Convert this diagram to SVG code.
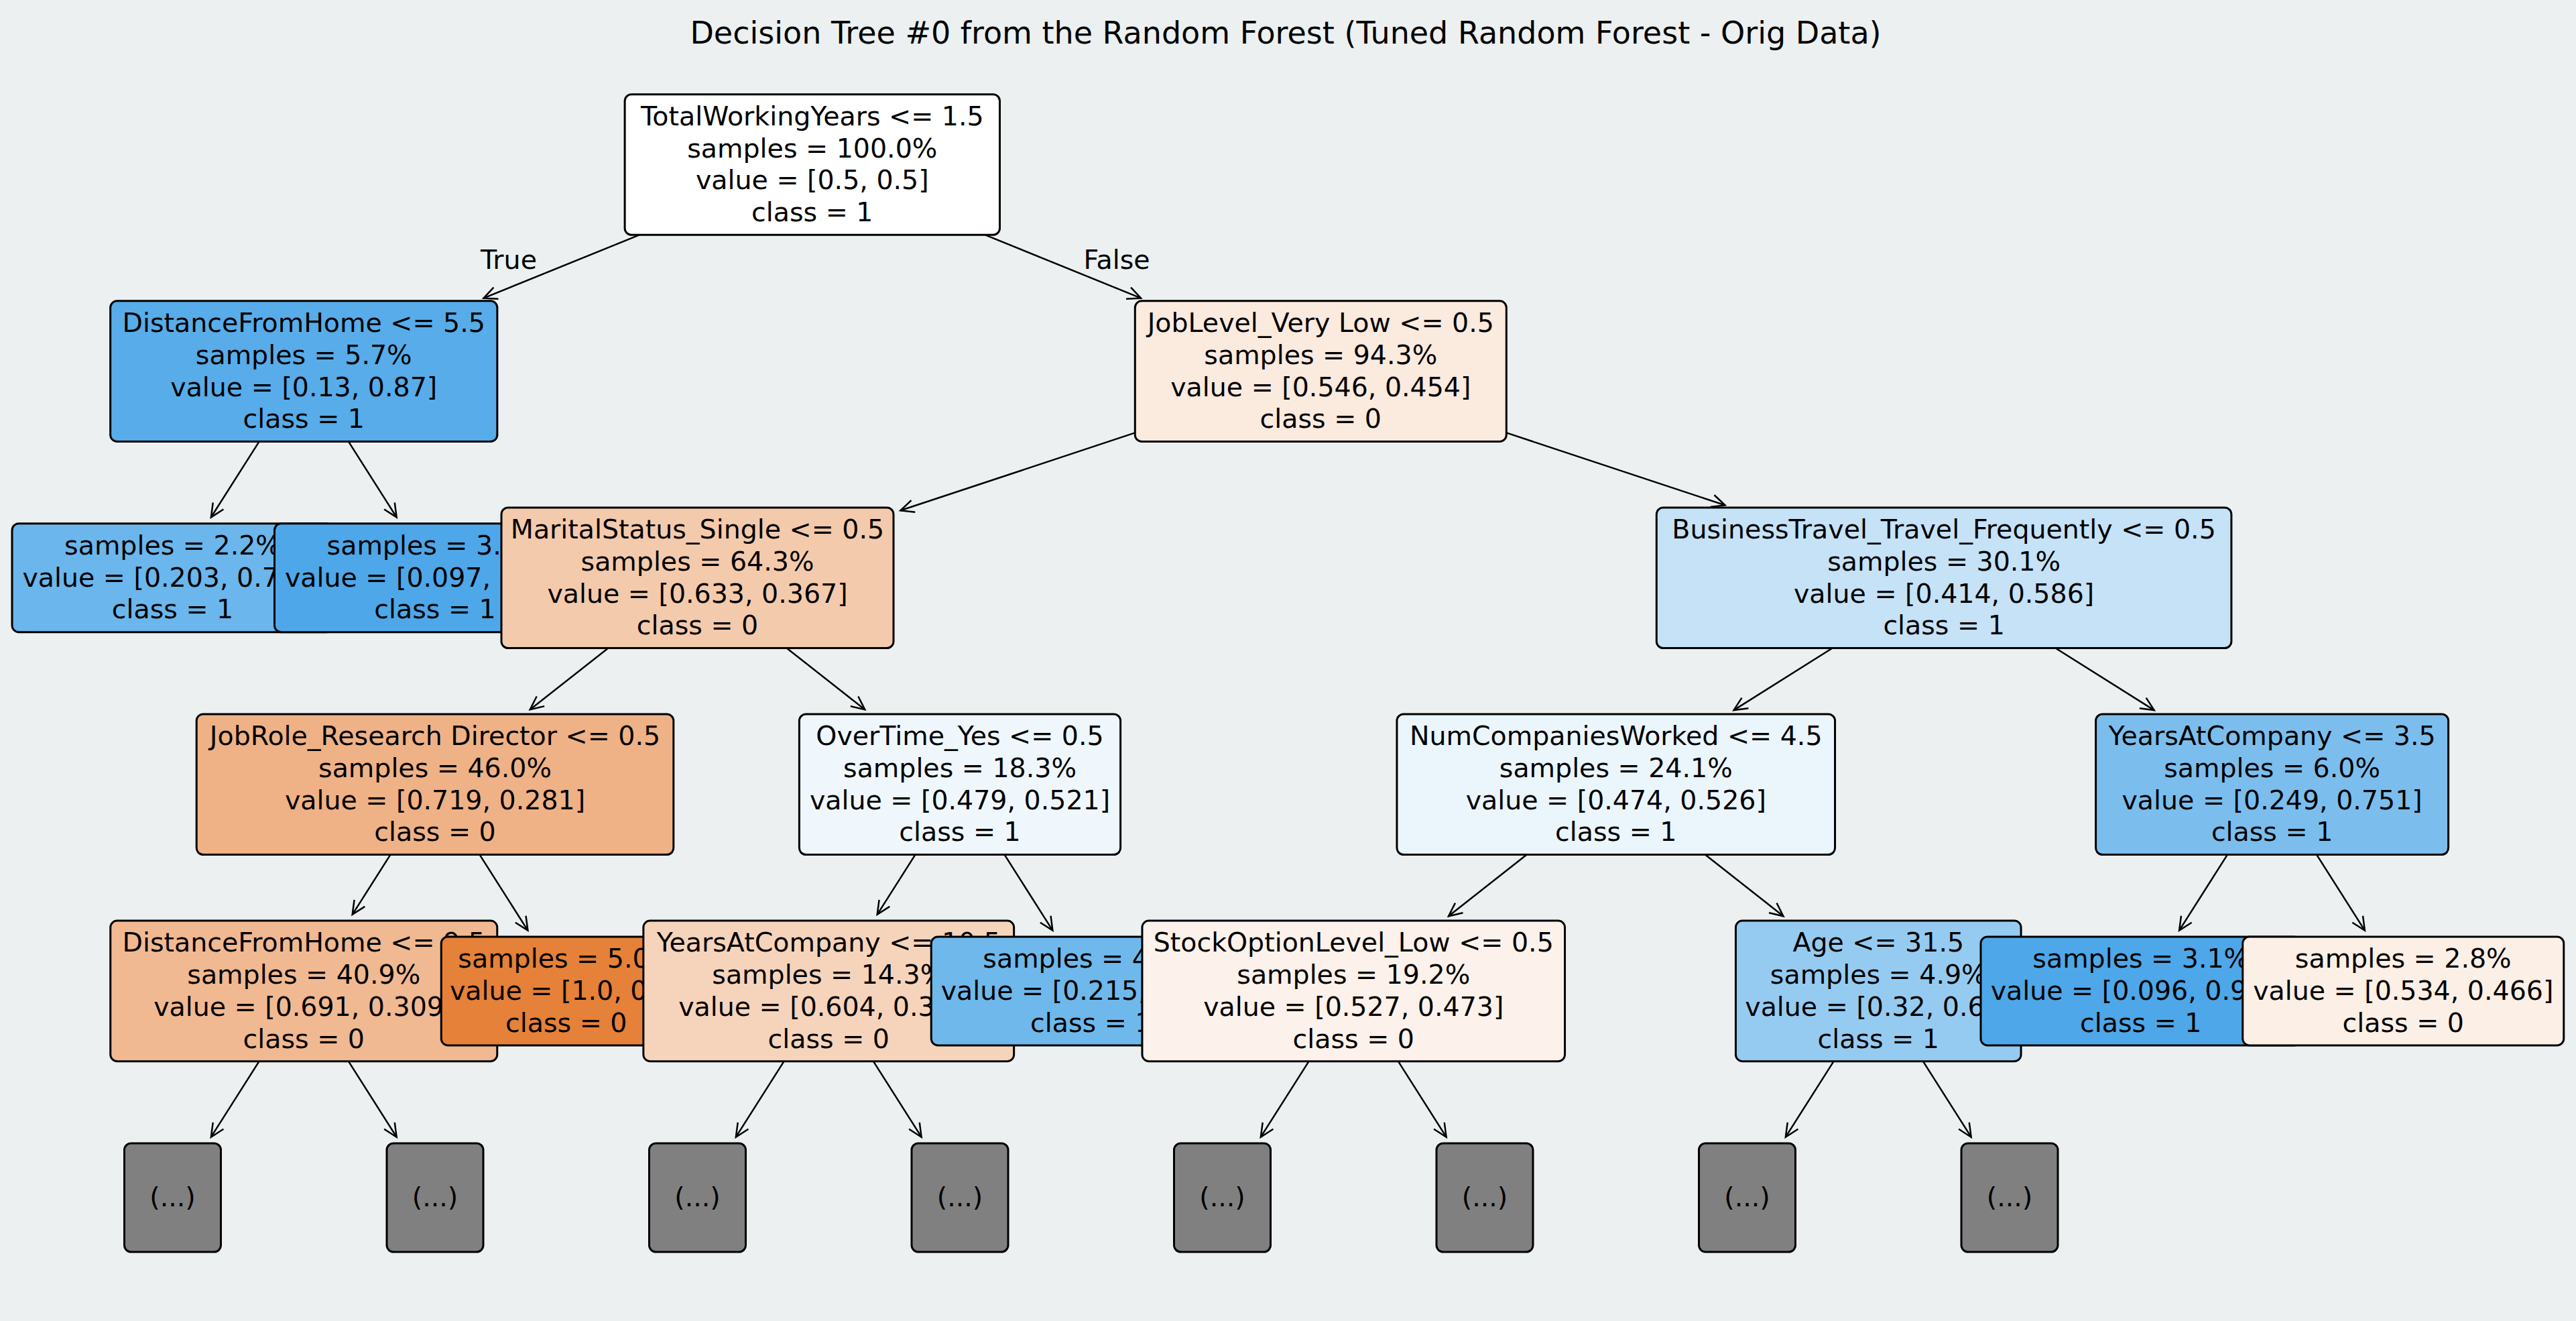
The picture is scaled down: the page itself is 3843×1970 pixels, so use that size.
<svg xmlns="http://www.w3.org/2000/svg" width="3843" height="1970" viewBox="0 0 3843 1970">
<style>
text{font-family:"DejaVu Sans","Liberation Sans",sans-serif;font-size:39.5px;fill:#000;text-anchor:middle}
.title{font-size:46px}
rect.nb{stroke:#000;stroke-width:3}
.edge{stroke:#000;stroke-width:2.5;fill:none}
.trunc{fill:#808080}
</style>
<defs>
<marker id="ah" viewBox="-24 -12 26 24" markerWidth="26" markerHeight="24" refX="0" refY="0" orient="auto" markerUnits="userSpaceOnUse" overflow="visible">
<path d="M -20 -9.3 L 0 0 L -20 9.3" fill="none" stroke="#000" stroke-width="2.5" stroke-linejoin="miter"/>
</marker>
</defs>
<rect x="0" y="0" width="3843" height="1970" fill="#ecf0f1"/>
<text class="title" x="1918" y="65">Decision Tree #0 from the Random Forest (Tuned Random Forest - Orig Data)</text>
<g id="connectors">
<line class="edge" marker-end="url(#ah)" x1="953.8" y1="350.3" x2="721.4" y2="444.7"/>
<line class="edge" marker-end="url(#ah)" x1="1469.8" y1="350.3" x2="1702.1" y2="444.7"/>
<line class="edge" marker-end="url(#ah)" x1="386.7" y1="658.4" x2="314.85" y2="771.4"/>
<line class="edge" marker-end="url(#ah)" x1="519.85" y1="658.4" x2="591.65" y2="771.4"/>
<line class="edge" marker-end="url(#ah)" x1="1693.3" y1="645.4" x2="1343.4" y2="761.3"/>
<line class="edge" marker-end="url(#ah)" x1="2247.3" y1="645.4" x2="2573.5" y2="753.4"/>
<line class="edge" marker-end="url(#ah)" x1="907.4" y1="966.5" x2="790.7" y2="1058.2"/>
<line class="edge" marker-end="url(#ah)" x1="1173.6" y1="966.5" x2="1290.3" y2="1058.2"/>
<line class="edge" marker-end="url(#ah)" x1="582.4" y1="1274.6" x2="525.7" y2="1363.8"/>
<line class="edge" marker-end="url(#ah)" x1="715.6" y1="1274.6" x2="787.4" y2="1387.6"/>
<line class="edge" marker-end="url(#ah)" x1="386.65" y1="1582.7" x2="314.85" y2="1695.7"/>
<line class="edge" marker-end="url(#ah)" x1="519.85" y1="1582.7" x2="591.65" y2="1695.7"/>
<line class="edge" marker-end="url(#ah)" x1="1365.4" y1="1274.6" x2="1308.7" y2="1363.8"/>
<line class="edge" marker-end="url(#ah)" x1="1498.6" y1="1274.6" x2="1570.4" y2="1387.6"/>
<line class="edge" marker-end="url(#ah)" x1="1169.65" y1="1582.7" x2="1097.85" y2="1695.7"/>
<line class="edge" marker-end="url(#ah)" x1="1302.85" y1="1582.7" x2="1374.65" y2="1695.7"/>
<line class="edge" marker-end="url(#ah)" x1="2733.7" y1="966.5" x2="2586.5" y2="1059.1"/>
<line class="edge" marker-end="url(#ah)" x1="3066.5" y1="966.5" x2="3213.7" y2="1059.1"/>
<line class="edge" marker-end="url(#ah)" x1="2277.65" y1="1274.6" x2="2161.0" y2="1366.3"/>
<line class="edge" marker-end="url(#ah)" x1="2543.85" y1="1274.6" x2="2660.5" y2="1366.3"/>
<line class="edge" marker-end="url(#ah)" x1="1952.65" y1="1582.7" x2="1880.85" y2="1695.7"/>
<line class="edge" marker-end="url(#ah)" x1="2085.85" y1="1582.7" x2="2157.65" y2="1695.7"/>
<line class="edge" marker-end="url(#ah)" x1="2735.65" y1="1582.7" x2="2663.85" y2="1695.7"/>
<line class="edge" marker-end="url(#ah)" x1="2868.85" y1="1582.7" x2="2940.65" y2="1695.7"/>
<line class="edge" marker-end="url(#ah)" x1="3322.9" y1="1274.6" x2="3251.1" y2="1387.6"/>
<line class="edge" marker-end="url(#ah)" x1="3456.1" y1="1274.6" x2="3527.9" y2="1387.6"/>
<text x="759" y="400.5">True</text>
<text x="1666" y="400.5">False</text>
</g>
<g id="n-root"><rect class="nb" x="932.1" y="140.7" width="559.4" height="209.6" rx="10" fill="#ffffff"/>
<text><tspan x="1211.8" y="187">TotalWorkingYears &lt;= 1.5</tspan><tspan x="1211.8" y="234.7">samples = 100.0%</tspan><tspan x="1211.8" y="282.4">value = [0.5, 0.5]</tspan><tspan x="1211.8" y="330.1">class = 1</tspan></text></g>
<g id="n-dist55"><rect class="nb" x="164.65" y="448.8" width="577.2" height="209.6" rx="10" fill="#57ace9"/>
<text><tspan x="453.25" y="495.1">DistanceFromHome &lt;= 5.5</tspan><tspan x="453.25" y="542.8">samples = 5.7%</tspan><tspan x="453.25" y="590.5">value = [0.13, 0.87]</tspan><tspan x="453.25" y="638.2">class = 1</tspan></text></g>
<g id="n-leaf22"><rect class="nb" x="18" y="780.7" width="479" height="162" rx="10" fill="#6bb6ec"/>
<text><tspan x="257.5" y="827">samples = 2.2%</tspan><tspan x="257.5" y="874.7">value = [0.203, 0.797]</tspan><tspan x="257.5" y="922.4">class = 1</tspan></text></g>
<g id="n-leaf35"><rect class="nb" x="409.5" y="780.7" width="479" height="162" rx="10" fill="#4ea7e8"/>
<text><tspan x="649" y="827">samples = 3.5%</tspan><tspan x="649" y="874.7">value = [0.097, 0.903]</tspan><tspan x="649" y="922.4">class = 1</tspan></text></g>
<g id="n-joblevel"><rect class="nb" x="1693.3" y="448.8" width="554" height="209.6" rx="10" fill="#fbeade"/>
<text><tspan x="1970.3" y="495.1">JobLevel_Very Low &lt;= 0.5</tspan><tspan x="1970.3" y="542.8">samples = 94.3%</tspan><tspan x="1970.3" y="590.5">value = [0.546, 0.454]</tspan><tspan x="1970.3" y="638.2">class = 0</tspan></text></g>
<g id="n-marital"><rect class="nb" x="748" y="756.9" width="585" height="209.6" rx="10" fill="#f4caac"/>
<text><tspan x="1040.5" y="803.2">MaritalStatus_Single &lt;= 0.5</tspan><tspan x="1040.5" y="850.9">samples = 64.3%</tspan><tspan x="1040.5" y="898.6">value = [0.633, 0.367]</tspan><tspan x="1040.5" y="946.3">class = 0</tspan></text></g>
<g id="n-jobrole"><rect class="nb" x="293.2" y="1065" width="711.6" height="209.6" rx="10" fill="#efb286"/>
<text><tspan x="649" y="1111.3">JobRole_Research Director &lt;= 0.5</tspan><tspan x="649" y="1159">samples = 46.0%</tspan><tspan x="649" y="1206.7">value = [0.719, 0.281]</tspan><tspan x="649" y="1254.4">class = 0</tspan></text></g>
<g id="n-dist2"><rect class="nb" x="164.75" y="1373.1" width="577" height="209.6" rx="10" fill="#f1b992"/>
<text><tspan x="453.25" y="1419.4">DistanceFromHome &lt;= 9.5</tspan><tspan x="453.25" y="1467.1">samples = 40.9%</tspan><tspan x="453.25" y="1514.8">value = [0.691, 0.309]</tspan><tspan x="453.25" y="1562.5">class = 0</tspan></text></g>
<g id="n-t1"><rect class="nb trunc" x="185.5" y="1705" width="144" height="162" rx="10"/><text x="257.5" y="1799">(...)</text></g>
<g id="n-t2"><rect class="nb trunc" x="577" y="1705" width="144" height="162" rx="10"/><text x="649" y="1799">(...)</text></g>
<g id="n-leaf50"><rect class="nb" x="658.25" y="1396.9" width="373" height="162" rx="10" fill="#e58139"/>
<text><tspan x="844.75" y="1443.2">samples = 5.0%</tspan><tspan x="844.75" y="1490.9">value = [1.0, 0.0]</tspan><tspan x="844.75" y="1538.6">class = 0</tspan></text></g>
<g id="n-overtime"><rect class="nb" x="1192.4" y="1065" width="479.2" height="209.6" rx="10" fill="#eff7fd"/>
<text><tspan x="1432" y="1111.3">OverTime_Yes &lt;= 0.5</tspan><tspan x="1432" y="1159">samples = 18.3%</tspan><tspan x="1432" y="1206.7">value = [0.479, 0.521]</tspan><tspan x="1432" y="1254.4">class = 1</tspan></text></g>
<g id="n-yac105"><rect class="nb" x="959.85" y="1373.1" width="552.8" height="209.6" rx="10" fill="#f6d4bb"/>
<text><tspan x="1236.25" y="1419.4">YearsAtCompany &lt;= 10.5</tspan><tspan x="1236.25" y="1467.1">samples = 14.3%</tspan><tspan x="1236.25" y="1514.8">value = [0.604, 0.396]</tspan><tspan x="1236.25" y="1562.5">class = 0</tspan></text></g>
<g id="n-t3"><rect class="nb trunc" x="968.5" y="1705" width="144" height="162" rx="10"/><text x="1040.5" y="1799">(...)</text></g>
<g id="n-t4"><rect class="nb trunc" x="1360" y="1705" width="144" height="162" rx="10"/><text x="1432" y="1799">(...)</text></g>
<g id="n-leafot"><rect class="nb" x="1389.25" y="1396.9" width="477" height="162" rx="10" fill="#6fb8ec"/>
<text><tspan x="1627.75" y="1443.2">samples = 4.0%</tspan><tspan x="1627.75" y="1490.9">value = [0.215, 0.785]</tspan><tspan x="1627.75" y="1538.6">class = 1</tspan></text></g>
<g id="n-bt"><rect class="nb" x="2471.3" y="756.9" width="857.6" height="209.6" rx="10" fill="#c5e2f7"/>
<text><tspan x="2900.1" y="803.2">BusinessTravel_Travel_Frequently &lt;= 0.5</tspan><tspan x="2900.1" y="850.9">samples = 30.1%</tspan><tspan x="2900.1" y="898.6">value = [0.414, 0.586]</tspan><tspan x="2900.1" y="946.3">class = 1</tspan></text></g>
<g id="n-numcomp"><rect class="nb" x="2083.95" y="1065" width="653.6" height="209.6" rx="10" fill="#ebf5fc"/>
<text><tspan x="2410.75" y="1111.3">NumCompaniesWorked &lt;= 4.5</tspan><tspan x="2410.75" y="1159">samples = 24.1%</tspan><tspan x="2410.75" y="1206.7">value = [0.474, 0.526]</tspan><tspan x="2410.75" y="1254.4">class = 1</tspan></text></g>
<g id="n-stock"><rect class="nb" x="1703.95" y="1373.1" width="630.6" height="209.6" rx="10" fill="#fcf2eb"/>
<text><tspan x="2019.25" y="1419.4">StockOptionLevel_Low &lt;= 0.5</tspan><tspan x="2019.25" y="1467.1">samples = 19.2%</tspan><tspan x="2019.25" y="1514.8">value = [0.527, 0.473]</tspan><tspan x="2019.25" y="1562.5">class = 0</tspan></text></g>
<g id="n-t5"><rect class="nb trunc" x="1751.5" y="1705" width="144" height="162" rx="10"/><text x="1823.5" y="1799">(...)</text></g>
<g id="n-t6"><rect class="nb trunc" x="2143" y="1705" width="144" height="162" rx="10"/><text x="2215" y="1799">(...)</text></g>
<g id="n-age"><rect class="nb" x="2589.45" y="1373.1" width="425.6" height="209.6" rx="10" fill="#96cbf1"/>
<text><tspan x="2802.25" y="1419.4">Age &lt;= 31.5</tspan><tspan x="2802.25" y="1467.1">samples = 4.9%</tspan><tspan x="2802.25" y="1514.8">value = [0.32, 0.68]</tspan><tspan x="2802.25" y="1562.5">class = 1</tspan></text></g>
<g id="n-t7"><rect class="nb trunc" x="2534.5" y="1705" width="144" height="162" rx="10"/><text x="2606.5" y="1799">(...)</text></g>
<g id="n-t8"><rect class="nb trunc" x="2926" y="1705" width="144" height="162" rx="10"/><text x="2998" y="1799">(...)</text></g>
<g id="n-yac35"><rect class="nb" x="3126.6" y="1065" width="526" height="209.6" rx="10" fill="#7bbeee"/>
<text><tspan x="3389.6" y="1111.3">YearsAtCompany &lt;= 3.5</tspan><tspan x="3389.6" y="1159">samples = 6.0%</tspan><tspan x="3389.6" y="1206.7">value = [0.249, 0.751]</tspan><tspan x="3389.6" y="1254.4">class = 1</tspan></text></g>
<g id="n-leaf31"><rect class="nb" x="2955" y="1396.9" width="477.5" height="162" rx="10" fill="#4ea7e8"/>
<text><tspan x="3193.75" y="1443.2">samples = 3.1%</tspan><tspan x="3193.75" y="1490.9">value = [0.096, 0.904]</tspan><tspan x="3193.75" y="1538.6">class = 1</tspan></text></g>
<g id="n-leaf28"><rect class="nb" x="3345.75" y="1396.9" width="479" height="162" rx="10" fill="#fcefe6"/>
<text><tspan x="3585.25" y="1443.2">samples = 2.8%</tspan><tspan x="3585.25" y="1490.9">value = [0.534, 0.466]</tspan><tspan x="3585.25" y="1538.6">class = 0</tspan></text></g>
</svg>
